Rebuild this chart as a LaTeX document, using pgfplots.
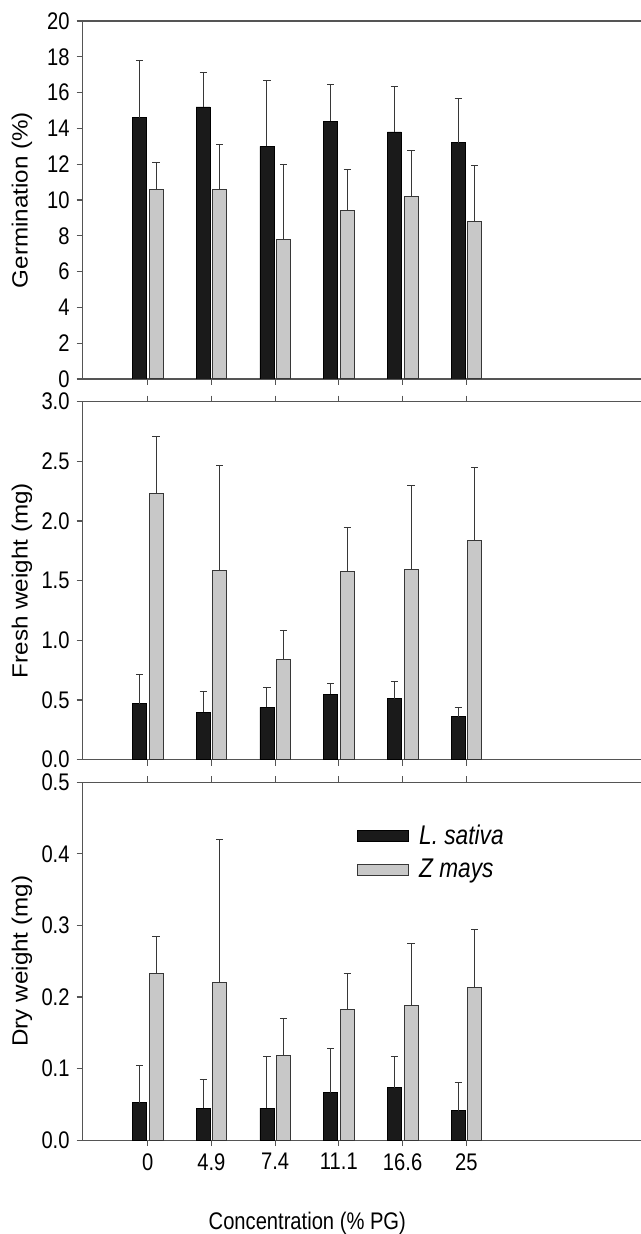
\documentclass[border=0pt]{standalone}
\usepackage{fontspec}
\setmainfont[FakeStretch=0.84]{Liberation Sans}
\newfontfamily\vfont[FakeStretch=1.1]{Liberation Sans}
\usepackage{pgfplots}
\usepackage{pgfplotstable}
\pgfplotsset{compat=1.18}

\definecolor{barblack}{RGB}{26,26,26}
\definecolor{bargray}{RGB}{200,200,200}
\definecolor{edge}{RGB}{55,55,55}
\definecolor{axisgray}{RGB}{85,85,85}

% x = category index (0, 4.9, 7.4, 11.1, 16.6, 25 % PG); errors are upper SD only
\pgfplotstableread{
x germ germerr fresh fresherr dry dryerr
0 14.6 3.19 0.470 0.247 0.0526 0.0522
1 15.2 1.95 0.395 0.179 0.0447 0.0401
2 13.0 3.65 0.437 0.165 0.0447 0.0722
3 14.4 2.07 0.546 0.090 0.0666 0.0610
4 13.8 2.55 0.510 0.145 0.0731 0.0438
5 13.2 2.48 0.359 0.075 0.0410 0.0400
}\lsativa

\pgfplotstableread{
x germ germerr fresh fresherr dry dryerr
0 10.6 1.49 2.230 0.479 0.2324 0.0526
1 10.6 2.48 1.585 0.883 0.2207 0.1998
2 7.8 4.16 0.835 0.249 0.1187 0.0517
3 9.4 2.28 1.574 0.373 0.1830 0.0498
4 10.2 2.54 1.594 0.703 0.1881 0.0866
5 8.8 3.13 1.838 0.607 0.2133 0.0815
}\zmays

\pgfplotsset{
  panel/.style={
    scale only axis, width=279.2pt, height=179pt,
    xmin=-1.02, xmax=7.74, ymin=0,
    axis x line*=box, axis y line*=left,
    axis line style={axisgray, line width=0.7pt},
    tick align=outside, major tick length=3pt,
    tick style={axisgray, line width=0.6pt},
    xtick={0,...,5}, xticklabels={},
    ybar, bar width=7pt,
    tick label style={font=\fontsize{12}{14}\selectfont},
    /pgf/number format/assume math mode=true,
    every axis y label/.style={at={(axis description cs:0,0.5)}, xshift=-30.3pt,
      rotate=90, anchor=center, font=\vfont\fontsize{11}{13}\selectfont},
    error bars/y dir=plus, error bars/y explicit,
    error bars/error bar style={edge, line width=0.5pt},
    error bars/error mark options={rotate=90, edge, line width=0.5pt, mark size=1.8pt},
  },
  black bars/.style={fill=barblack, draw=black, line width=0.4pt, bar shift=-4.1pt},
  gray bars/.style={fill=bargray, draw=edge, line width=0.5pt, bar shift=4.2pt},
  onedec/.style={yticklabel style={/pgf/number format/.cd, fixed, fixed zerofill, precision=1}},
}

\begin{document}
\begin{tikzpicture}
\path[use as bounding box] (-41.3pt,10.5pt) rectangle (279.2pt,-606.5pt);

\begin{axis}[panel, name=p1, at={(0,0)}, anchor=north west,
  xtick pos=left,
  ymax=20, ytick={0,2,...,20},
  ylabel={Germination (\%)}]
  \addplot[black bars] table[x=x, y=germ, y error=germerr] {\lsativa};
  \addplot[gray bars] table[x=x, y=germ, y error=germerr] {\zmays};
\end{axis}

\begin{axis}[panel, onedec, name=p2, at={(0,-190.3pt)}, anchor=north west,
  ymax=3, ytick={0,0.5,...,3},
  ylabel={Fresh weight (mg)}]
  \addplot[black bars] table[x=x, y=fresh, y error=fresherr] {\lsativa};
  \addplot[gray bars] table[x=x, y=fresh, y error=fresherr] {\zmays};
\end{axis}

\begin{axis}[panel, onedec, name=p3, at={(0,-380.6pt)}, anchor=north west,
  ymax=0.5, ytick={0,0.1,...,0.5},
  ylabel={Dry weight (mg)},
  xticklabels={0,4.9,7.4,11.1,16.6,25},
  xlabel={Concentration (\% PG)},
  every axis x label/.style={at={(axis description cs:0.4024,0)}, yshift=-41.5pt,
    anchor=center, font=\fontsize{12}{14}\selectfont},
  legend style={at={(axis description cs:0.491,1)}, anchor=north west, yshift=-19pt,
    draw=none, fill=none, inner sep=0pt, row sep=2pt,
    font=\itshape\fontsize{13.5}{15}\selectfont,
    cells={anchor=west},
    /tikz/every odd column/.append style={column sep=3pt}},
  legend image code/.code={\draw[#1] (0pt,-2.8pt) rectangle (25.5pt,2.8pt);}]
  \addplot[black bars] table[x=x, y=dry, y error=dryerr] {\lsativa};
  \addlegendentry{L. sativa}
  \addplot[gray bars] table[x=x, y=dry, y error=dryerr] {\zmays};
  \addlegendentry{Z mays}
\end{axis}
\end{tikzpicture}
\end{document}
